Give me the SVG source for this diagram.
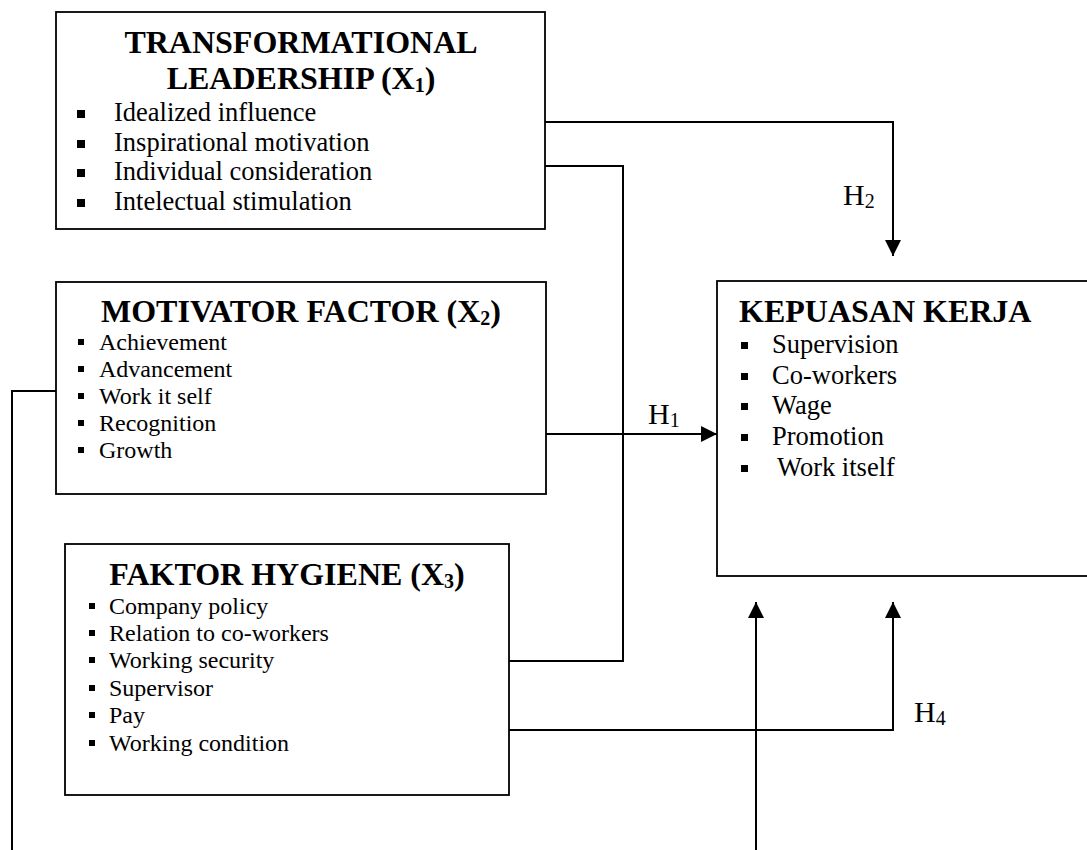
<svg xmlns="http://www.w3.org/2000/svg" width="1087" height="850" viewBox="0 0 1087 850">
<style>
  .box{fill:#fff;stroke:#000;stroke-width:1.8}
  .ttl{font-family:"Liberation Serif","Times New Roman",serif;font-weight:bold;font-size:32px;fill:#000}
  .it{font-family:"Liberation Serif","Times New Roman",serif;font-size:26.5px;fill:#000}
  .it2{font-family:"Liberation Serif","Times New Roman",serif;font-size:24px;fill:#000}
  .lbl{font-family:"Liberation Serif","Times New Roman",serif;font-size:30px;fill:#000}
  .sub{font-size:20px}
  .con{fill:none;stroke:#000;stroke-width:2}
  .b{fill:#000}
</style>
<defs>
  <marker id="ah" markerUnits="userSpaceOnUse" markerWidth="16" markerHeight="16" refX="16" refY="8" orient="auto">
    <path d="M0,0 L16,8 L0,16 z" fill="#000"/>
  </marker>
</defs>
<rect width="1087" height="850" fill="#fff"/>

<g id="connectors">
  <polyline class="con" points="545,122 893,122 893,256" marker-end="url(#ah)"/>
  <polyline class="con" points="545,166 623,166 623,661 509,661"/>
  <line class="con" x1="546" y1="434" x2="717" y2="434" marker-end="url(#ah)"/>
  <polyline class="con" points="509,730 893,730 893,602" marker-end="url(#ah)"/>
  <polyline class="con" points="56,391 12,391 12,850"/>
  <line class="con" x1="756" y1="850" x2="756" y2="602" marker-end="url(#ah)"/>
  <text class="lbl" x="843" y="205">H<tspan class="sub" dy="3">2</tspan></text>
  <text class="lbl" x="648" y="424">H<tspan class="sub" dy="3">1</tspan></text>
  <text class="lbl" x="914" y="722">H<tspan class="sub" dy="3">4</tspan></text>
</g>

<g id="transformational">
  <rect class="box" x="56" y="12" width="489" height="217"/>
  <text class="ttl" x="301" y="53" text-anchor="middle">TRANSFORMATIONAL</text>
  <text class="ttl" x="301" y="89" text-anchor="middle">LEADERSHIP (X<tspan class="sub" dy="3">1</tspan><tspan dy="-3">)</tspan></text>
  <rect class="b" x="77" y="110" width="8" height="8"/>
  <rect class="b" x="77" y="140" width="8" height="8"/>
  <rect class="b" x="77" y="169" width="8" height="8"/>
  <rect class="b" x="77" y="199" width="8" height="8"/>
  <text class="it" x="114" y="121">Idealized influence</text>
  <text class="it" x="114" y="151">Inspirational motivation</text>
  <text class="it" x="114" y="180">Individual consideration</text>
  <text class="it" x="114" y="210">Intelectual stimulation</text>
</g>

<g id="motivator">
  <rect class="box" x="56" y="282" width="490" height="212"/>
  <text class="ttl" x="301" y="322" text-anchor="middle">MOTIVATOR FACTOR (X<tspan class="sub" dy="3">2</tspan><tspan dy="-3">)</tspan></text>
  <rect class="b" x="78" y="339" width="6" height="6"/>
  <rect class="b" x="78" y="366" width="6" height="6"/>
  <rect class="b" x="78" y="393" width="6" height="6"/>
  <rect class="b" x="78" y="420" width="6" height="6"/>
  <rect class="b" x="78" y="447" width="6" height="6"/>
  <text class="it2" x="99" y="350">Achievement</text>
  <text class="it2" x="99" y="377">Advancement</text>
  <text class="it2" x="99" y="404">Work it self</text>
  <text class="it2" x="99" y="431">Recognition</text>
  <text class="it2" x="99" y="458">Growth</text>
</g>

<g id="hygiene">
  <rect class="box" x="65" y="544" width="444" height="251"/>
  <text class="ttl" x="287" y="585" text-anchor="middle">FAKTOR HYGIENE (X<tspan class="sub" dy="3">3</tspan><tspan dy="-3">)</tspan></text>
  <rect class="b" x="89" y="603" width="6" height="6"/>
  <rect class="b" x="89" y="630" width="6" height="6"/>
  <rect class="b" x="89" y="657" width="6" height="6"/>
  <rect class="b" x="89" y="685" width="6" height="6"/>
  <rect class="b" x="89" y="712" width="6" height="6"/>
  <rect class="b" x="89" y="740" width="6" height="6"/>
  <text class="it2" x="109" y="614">Company policy</text>
  <text class="it2" x="109" y="641">Relation to co-workers</text>
  <text class="it2" x="109" y="668">Working security</text>
  <text class="it2" x="109" y="696">Supervisor</text>
  <text class="it2" x="109" y="723">Pay</text>
  <text class="it2" x="109" y="751">Working condition</text>
</g>

<g id="kepuasan">
  <rect class="box" x="717" y="281" width="400" height="295"/>
  <text class="ttl" x="739" y="322">KEPUASAN KERJA</text>
  <rect class="b" x="741" y="342" width="7" height="7"/>
  <rect class="b" x="741" y="373" width="7" height="7"/>
  <rect class="b" x="741" y="403" width="7" height="7"/>
  <rect class="b" x="741" y="434" width="7" height="7"/>
  <rect class="b" x="741" y="465" width="7" height="7"/>
  <text class="it" x="772" y="353">Supervision</text>
  <text class="it" x="772" y="384">Co-workers</text>
  <text class="it" x="772" y="414">Wage</text>
  <text class="it" x="772" y="445">Promotion</text>
  <text class="it" x="777" y="476">Work itself</text>
</g>
</svg>
